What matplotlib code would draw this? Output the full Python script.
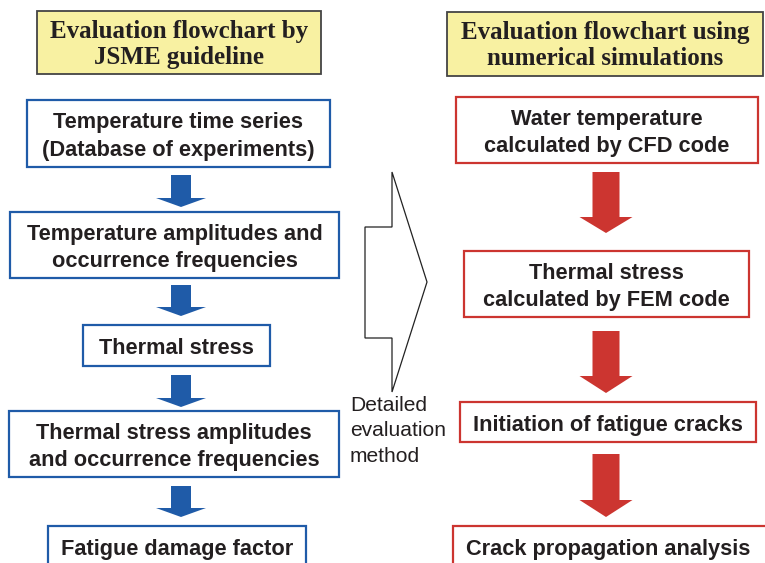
import matplotlib.pyplot as plt
from matplotlib.patches import Rectangle, Polygon

# Text of the two flowcharts
left_title = "Evaluation flowchart by\nJSME guideline"
right_title = "Evaluation flowchart using\nnumerical simulations"
left_steps = [
    "Temperature time series\n(Database of experiments)",
    "Temperature amplitudes and\noccurrence frequencies",
    "Thermal stress",
    "Thermal stress amplitudes\nand occurrence frequencies",
    "Fatigue damage factor",
]
right_steps = [
    "Water temperature\ncalculated by CFD code",
    "Thermal stress\ncalculated by FEM code",
    "Initiation of fatigue cracks",
    "Crack propagation analysis",
]
middle_label = "Detailed\nevaluation\nmethod"

# Layout in pixels (x0, y0, x1, y1), y down
left_boxes = [(27, 100, 330, 167), (10, 212, 339, 278), (83, 325, 270, 366),
              (9, 411, 339, 477), (48, 526, 306, 580)]
left_arrows = [(175, 198, 207), (285, 307, 316), (375, 398, 407), (486, 508, 517)]
right_boxes = [(456, 97, 758, 163), (464, 251, 749, 317), (460, 402, 756, 442),
               (453, 526, 775, 580)]
right_arrows = [(172, 217, 233), (331, 376, 393), (454, 500, 517)]

BLUE = '#1f5ba8'
RED = '#cc3530'
TEXT = '#231f20'
YELLOW = '#f8f1a2'

W, H = 765, 563
fig = plt.figure(figsize=(W / 100, H / 100), dpi=100)
ax = fig.add_axes([0, 0, 1, 1])
ax.set_xlim(0, W)
ax.set_ylim(H, 0)
ax.axis('off')


def box(x0, y0, x1, y1, edge, face='white', lw=1.6):
    ax.add_patch(Rectangle((x0, y0), x1 - x0, y1 - y0, facecolor=face,
                           edgecolor=edge, linewidth=lw, zorder=2))


def down_arrow(cx, top, neck, tip, shaft_w, head_w, color):
    sw, hw = shaft_w / 2, head_w / 2
    pts = [(cx - sw, top), (cx + sw, top), (cx + sw, neck), (cx + hw, neck),
           (cx, tip), (cx - hw, neck), (cx - sw, neck)]
    ax.add_patch(Polygon(pts, closed=True, facecolor=color, edgecolor='none', zorder=2))


# Titles
box(37, 11, 321, 74, '#444444', YELLOW, lw=1.3)
ax.text(179, 44.5, left_title, ha='center', va='center', fontsize=18.0,
        fontweight='bold', family='Liberation Serif', color=TEXT, linespacing=1.2, zorder=3)
box(447, 12, 763, 76, '#444444', YELLOW, lw=1.3)
ax.text(605, 45.5, right_title, ha='center', va='center', fontsize=18.0,
        fontweight='bold', family='Liberation Serif', color=TEXT, linespacing=1.2, zorder=3)

# Left column
for (x0, y0, x1, y1), label in zip(left_boxes, left_steps):
    box(x0, y0, x1, y1, BLUE)
    cy = (y0 + y1) / 2 + 3 if y1 < H else 550
    ax.text((x0 + x1) / 2, cy, label, ha='center', va='center', fontsize=15.7,
            fontweight='bold', family='Liberation Sans', color=TEXT, linespacing=1.4, zorder=3)
for top, neck, tip in left_arrows:
    down_arrow(181, top, neck, tip, 20, 50, BLUE)

# Right column
for (x0, y0, x1, y1), label in zip(right_boxes, right_steps):
    box(x0, y0, x1, y1, RED)
    cy = (y0 + y1) / 2 + 3 if y1 < H else 550
    cx = (x0 + x1) / 2 if x1 < W else 608
    ax.text(cx, cy, label, ha='center', va='center', fontsize=15.7,
            fontweight='bold', family='Liberation Sans', color=TEXT, linespacing=1.4, zorder=3)
for top, neck, tip in right_arrows:
    down_arrow(606, top, neck, tip, 27, 53, RED)

# Big outline arrow in the middle
outline = [(392, 172), (427, 282), (392, 392), (392, 338), (365, 338),
           (365, 227), (392, 227)]
ax.add_patch(Polygon(outline, closed=True, facecolor='white', edgecolor='#222222',
                     linewidth=0.9, zorder=1))
ax.text(350, 431, middle_label, ha='left', va='center', fontsize=15.1,
        family='Liberation Sans', color=TEXT, linespacing=1.42, zorder=3)

fig.savefig('out.png', dpi=100)
